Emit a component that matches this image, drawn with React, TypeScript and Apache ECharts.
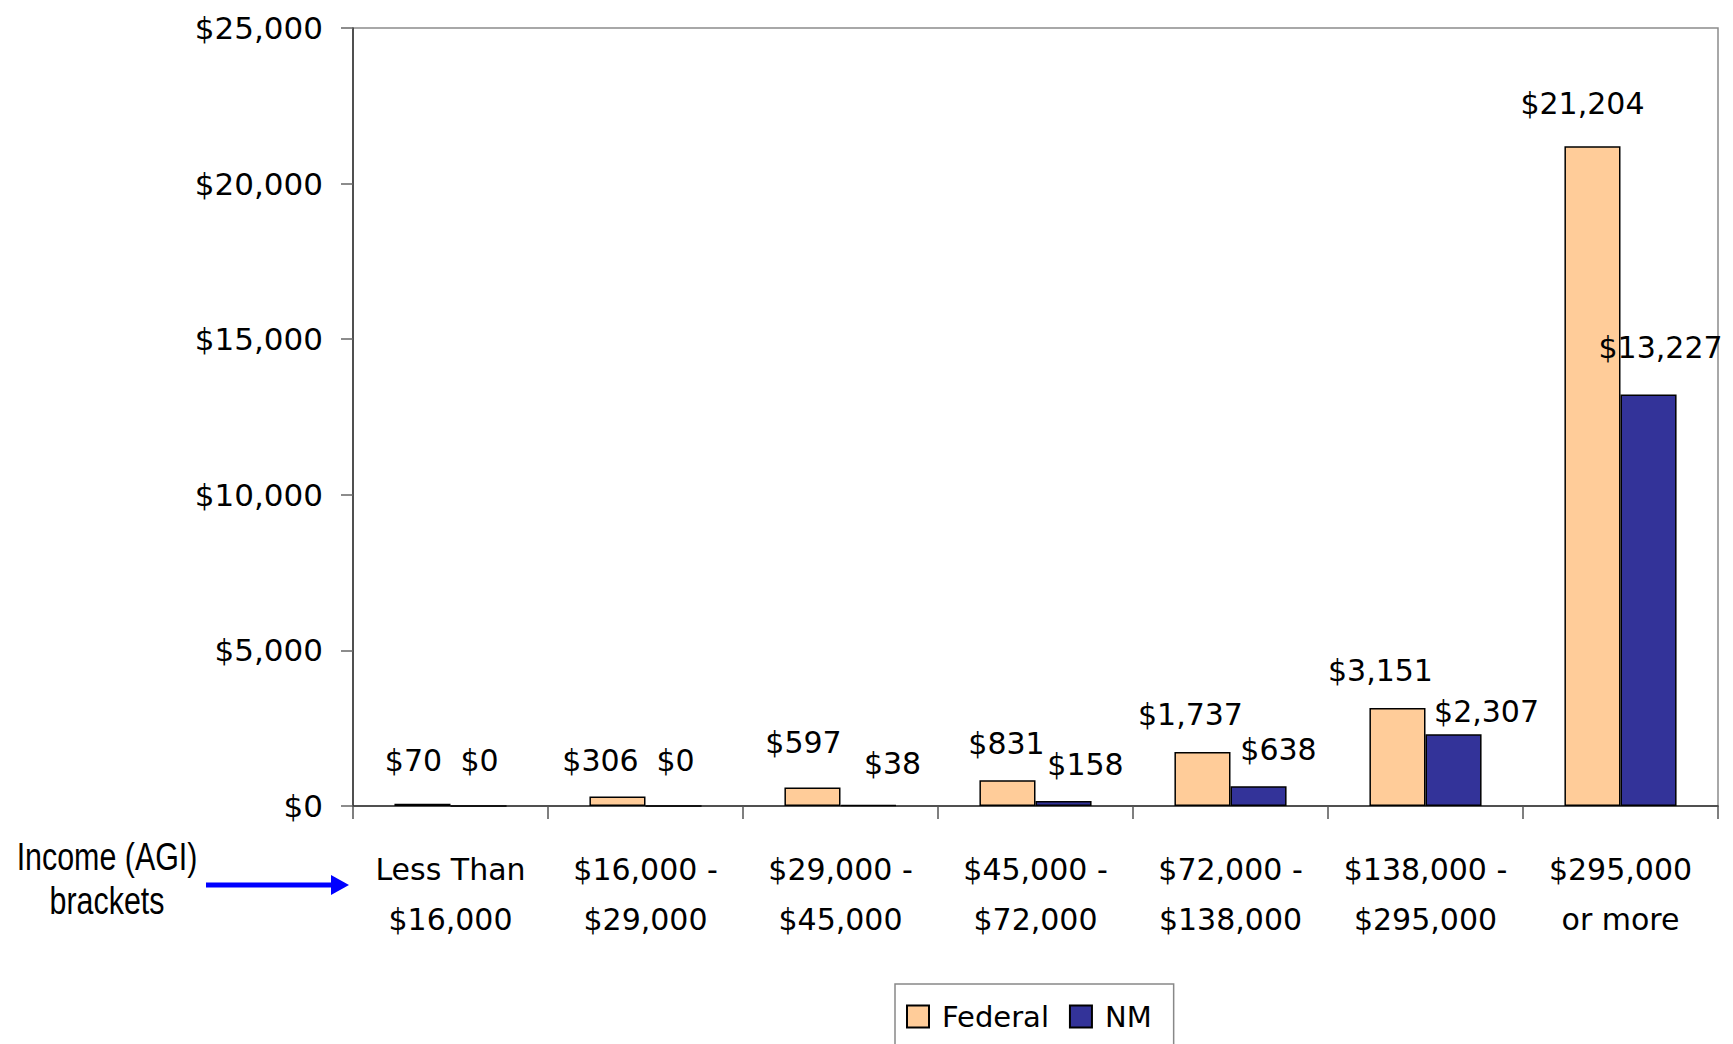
import React, { useEffect, useRef } from "react";
import * as echarts from "echarts";

const categories = [
  "Less Than\n$16,000",
  "$16,000 -\n$29,000",
  "$29,000 -\n$45,000",
  "$45,000 -\n$72,000",
  "$72,000 -\n$138,000",
  "$138,000 -\n$295,000",
  "$295,000\nor more",
];
const federalValues = [70, 306, 597, 831, 1737, 3151, 21204];
const nmValues = [0, 0, 38, 158, 638, 2307, 13227];
const yTicks = { min: 0, max: 25000, interval: 5000 };
const seriesNames = ["Federal", "NM"];
const sideLabel = "Income (AGI)\nbrackets";

// label nudges (style only)
const federalLabelNudge = [[-9, -6], [-17, 1], [-9, -8], [-1, 0], [-12, 0], [-17, 0], [-10, -6]];
const nmLabelNudge = [[1, -8], [2, -8], [24, -4], [22, 0], [20, 0], [33, 14], [12, -10]];

const FONT = "'DejaVu Sans', sans-serif";
const money = (v: number) => "$" + Math.round(v).toLocaleString("en-US");

export default function App() {
  const ref = useRef<HTMLDivElement>(null);
  useEffect(() => {
    document.body.style.margin = "0";
    const chart = echarts.init(ref.current!, null, { renderer: "svg" });
    const mk = (vals: number[], nudge: number[][]) =>
      vals.map((v, i) => ({ value: v, label: { offset: nudge[i] } }));
    const labelStyle = {
      show: true,
      position: "top",
      distance: 22,
      fontFamily: FONT,
      fontSize: 30,
      color: "#000",
      formatter: (p: any) => money(p.value),
    };
    chart.setOption({
      animation: false,
      backgroundColor: "#fff",
      textStyle: { fontFamily: FONT },
      grid: {
        left: 353,
        right: 15,
        top: 28,
        bottom: 238,
        show: true,
        borderColor: "#8c8c8c",
        borderWidth: 1.5,
        backgroundColor: "transparent",
      },
      legend: {
        data: seriesNames,
        left: 895,
        top: 984,
        orient: "horizontal",
        icon: "rect",
        itemWidth: 22,
        itemHeight: 22,
        itemGap: 20,
        padding: [18, 22, 22, 11],
        borderColor: "#888",
        borderWidth: 1.5,
        textStyle: { fontFamily: FONT, fontSize: 29, color: "#000", padding: [0, 0, 0, 8] },
      },
      xAxis: {
        type: "category",
        data: categories,
        axisLine: { lineStyle: { color: "#333", width: 1.5 } },
        axisTick: { show: true, length: 13, lineStyle: { color: "#555", width: 1.5 } },
        axisLabel: {
          fontFamily: FONT,
          fontSize: 30,
          color: "#000",
          lineHeight: 50,
          margin: 38,
          interval: 0,
        },
      },
      yAxis: {
        type: "value",
        min: yTicks.min,
        max: yTicks.max,
        interval: yTicks.interval,
        splitLine: { show: false },
        axisLine: { show: true, lineStyle: { color: "#333", width: 1.5 } },
        axisTick: { show: true, length: 12, lineStyle: { color: "#666", width: 1.5 } },
        axisLabel: {
          fontFamily: FONT,
          fontSize: 31,
          color: "#000",
          margin: 30,
          formatter: (v: number) => money(v),
        },
      },
      series: [
        {
          name: seriesNames[0],
          type: "bar",
          data: mk(federalValues, federalLabelNudge),
          barGap: "0%",
          barCategoryGap: "42.5%",
          itemStyle: { color: "#FFCC99", borderColor: "#000", borderWidth: 1.5 },
          label: labelStyle,
        },
        {
          name: seriesNames[1],
          type: "bar",
          data: mk(nmValues, nmLabelNudge),
          barGap: "0%",
          barCategoryGap: "42.5%",
          itemStyle: { color: "#333399", borderColor: "#000", borderWidth: 1.5 },
          label: labelStyle,
        },
      ],
      graphic: [
        {
          type: "text",
          x: 107,
          y: 879,
          scaleX: 0.8,
          style: {
            text: sideLabel,
            fontFamily: "'Liberation Sans', Arial, sans-serif",
            fontSize: 38,
            lineHeight: 44,
            fill: "#000",
            align: "center",
            verticalAlign: "middle",
          },
        },
        {
          type: "line",
          shape: { x1: 206, y1: 885, x2: 333, y2: 885 },
          style: { stroke: "#0000FF", lineWidth: 5 },
        },
        {
          type: "polygon",
          shape: { points: [[331, 875], [349, 885], [331, 895]] },
          style: { fill: "#0000FF" },
        },
      ],
    });
    return () => chart.dispose();
  }, []);
  return <div ref={ref} style={{ width: 1733, height: 1044 }} />;
}
